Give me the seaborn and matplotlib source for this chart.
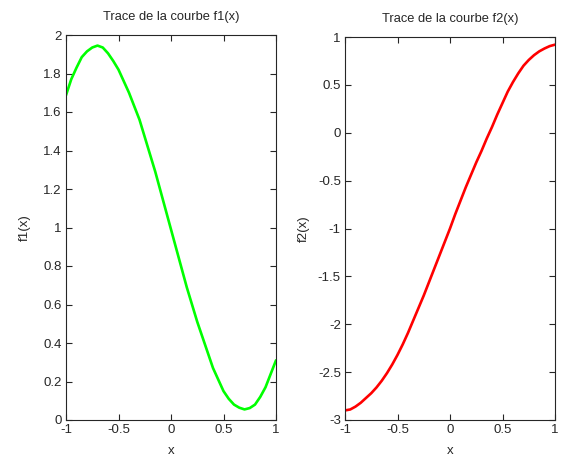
import numpy as np
import pandas as pd
import matplotlib
matplotlib.use("Agg")
import matplotlib.pyplot as plt
import seaborn as sns

x_vals = [-1.0, -0.95, -0.9, -0.85, -0.8, -0.75, -0.7, -0.65, -0.6, -0.55, -0.5,
          -0.45, -0.4, -0.35, -0.3, -0.25, -0.2, -0.15, -0.1, -0.05, 0.0,
          0.05, 0.1, 0.15, 0.2, 0.25, 0.3, 0.35, 0.4, 0.45, 0.5,
          0.55, 0.6, 0.65, 0.7, 0.75, 0.8, 0.85, 0.9, 0.95, 1.0]
f1_vals = [1.687, 1.77, 1.83, 1.885, 1.915, 1.935, 1.945, 1.935, 1.905, 1.865, 1.82,
           1.76, 1.70, 1.63, 1.56, 1.47, 1.38, 1.29, 1.19, 1.09, 0.99,
           0.89, 0.79, 0.69, 0.60, 0.51, 0.43, 0.35, 0.27, 0.21, 0.15,
           0.11, 0.08, 0.064, 0.055, 0.062, 0.08, 0.12, 0.17, 0.24, 0.31]
f2_vals = [-2.90, -2.89, -2.86, -2.82, -2.77, -2.72, -2.66, -2.59, -2.51, -2.42, -2.32,
           -2.21, -2.09, -1.96, -1.83, -1.70, -1.56, -1.42, -1.28, -1.14, -1.00,
           -0.85, -0.71, -0.57, -0.44, -0.31, -0.19, -0.06, 0.06, 0.19, 0.31,
           0.43, 0.53, 0.62, 0.70, 0.76, 0.81, 0.85, 0.88, 0.905, 0.92]

titles = ["Trace de la courbe f1(x)", "Trace de la courbe f2(x)"]
ylabels = ["f1(x)", "f2(x)"]
xticks = [-1, -0.5, 0, 0.5, 1]
xtick_labels = ["-1", "-0.5", "0", "0.5", "1"]
y1ticks = [0, 0.2, 0.4, 0.6, 0.8, 1, 1.2, 1.4, 1.6, 1.8, 2]
y1tick_labels = ["0", "0.2", "0.4", "0.6", "0.8", "1", "1.2", "1.4", "1.6", "1.8", "2"]
y2ticks = [-3, -2.5, -2, -1.5, -1, -0.5, 0, 0.5, 1]
y2tick_labels = ["-3", "-2.5", "-2", "-1.5", "-1", "-0.5", "0", "0.5", "1"]

sns.set_style("ticks")
plt.rcParams['font.family'] = ['Liberation Sans', 'DejaVu Sans']

df = pd.DataFrame({"x": x_vals, "f1": f1_vals, "f2": f2_vals})

fig = plt.figure(figsize=(5.66, 4.57), dpi=100)
W, H = 566, 457
ax1 = fig.add_axes([66 / W, 1 - 420 / H, 210 / W, 385 / H])
ax2 = fig.add_axes([345 / W, 1 - 420 / H, 210 / W, 383 / H])

sns.lineplot(data=df, x="x", y="f1", ax=ax1, color="#00ff00", linewidth=1.9)
sns.lineplot(data=df, x="x", y="f2", ax=ax2, color="#ff0000", linewidth=1.9)

configs = [
    (ax1, (0, 2), y1ticks, y1tick_labels, titles[0], ylabels[0], 9),
    (ax2, (-3, 1), y2ticks, y2tick_labels, titles[1], ylabels[1], 6),
]
for ax, ylim, yt, ytl, title, ylab, lpad in configs:
    ax.set_xlim(-1, 1)
    ax.set_ylim(*ylim)
    ax.set_xticks(xticks)
    ax.set_xticklabels(xtick_labels)
    ax.set_yticks(yt)
    ax.set_yticklabels(ytl)
    ax.tick_params(direction="in", top=True, right=True, length=4, width=0.8,
                   labelsize=9.5, labelcolor="#262626", color="#262626", pad=3)
    for sp in ax.spines.values():
        sp.set_visible(True)
        sp.set_linewidth(0.8)
        sp.set_color("#262626")
    ax.set_title(title, fontsize=9.3, color="#262626", pad=10.5)
    ax.set_xlabel("x", fontsize=9.5, color="#262626", labelpad=6)
    ax.set_ylabel(ylab, fontsize=9.5, color="#262626", labelpad=lpad)
    ax.grid(False)

fig.savefig("out.png", dpi=100, facecolor="white")
